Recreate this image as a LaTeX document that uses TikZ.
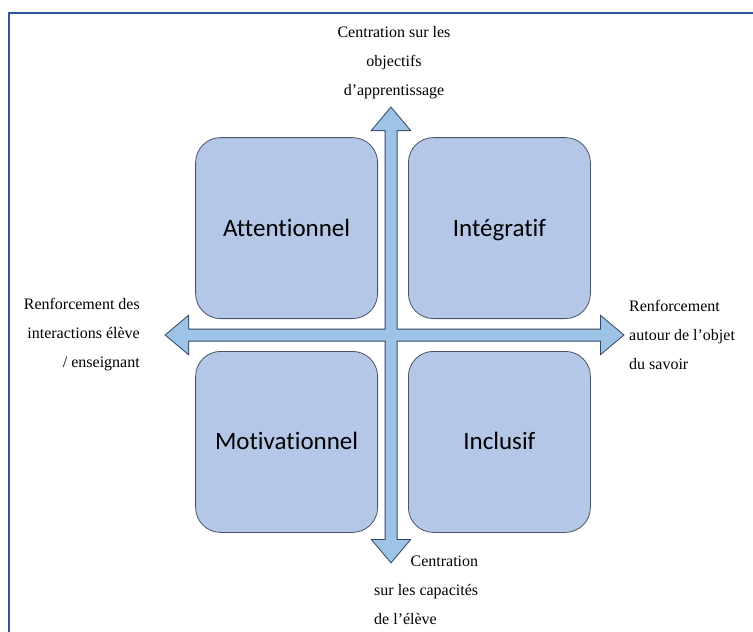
\documentclass[tikz,border=0pt]{standalone}
\usepackage{fontspec}
\setmainfont{Liberation Serif}
\newfontfamily\quadfont[Ligatures={NoCommon}]{Carlito}
\usetikzlibrary{positioning,calc}

\definecolor{quadfill}{RGB}{180,199,231}
\definecolor{quadline}{RGB}{72,84,104}
\definecolor{axisfill}{RGB}{157,195,230}
\definecolor{axisline}{RGB}{52,72,100}
\definecolor{framecol}{RGB}{47,85,151}

\tikzset{
  quadrant/.style={draw=quadline, fill=quadfill, line width=0.8pt, rounded corners=25pt,
    minimum width=182pt, minimum height=181pt, inner sep=0pt,
    text height=19pt, text depth=3pt,
    font=\quadfont\fontsize{25}{30}\selectfont},
  axislabel/.style={inner sep=0pt, font=\fontsize{16}{29}\selectfont},
  axisedge/.style={draw=axisline, line width=2pt, line join=miter},
  axisbody/.style={fill=axisfill},
}

% the two block arrows (axes)
\newcommand{\vaxis}[1]{%
  \path[#1] (vtop) -- ++(18.5,22) -- ++(-13,0) -- ($(vbot)+(5.5,-22)$) -- ++(13,0)
    -- (vbot) -- ++(-18.5,-22) -- ++(13,0) -- ($(vtop)+(-5.5,22)$) -- ++(-13,0) -- cycle;}
\newcommand{\haxis}[1]{%
  \path[#1] (hleft) -- ++(22,-18.5) -- ++(0,13) -- ($(hright)+(-22,-5.5)$) -- ++(0,-13)
    -- (hright) -- ++(-22,18.5) -- ++(0,-13) -- ($(hleft)+(22,5.5)$) -- ++(0,13) -- cycle;}

\begin{document}
\begin{tikzpicture}[x=1pt,y=-1pt]
  \useasboundingbox (0,0) rectangle (753,632);

  % frame
  \draw[framecol, line width=2.5pt] (9,645) -- (9,13) -- (765,13);

  \coordinate (ctr)    at (391,335);
  \coordinate (vtop)   at (391,108);
  \coordinate (vbot)   at (391,562);
  \coordinate (hleft)  at (166,335);
  \coordinate (hright) at (623,335);

  % axes: outline first, then fill, so the crossing is merged
  \vaxis{axisedge}
  \haxis{axisedge}
  \vaxis{axisbody}
  \haxis{axisbody}

  \node[quadrant, above left=16pt and 13pt of ctr]  (attent) {Attentionnel};
  \node[quadrant, above right=16pt and 17pt of ctr] (integr) {Intégratif};
  \node[quadrant, below left=16pt and 13pt of ctr]  (motiv)  {Motivationnel};
  \node[quadrant, below right=16pt and 17pt of ctr] (inclus) {Inclusif};

  \node[axislabel, align=center, above=9pt of vtop, xshift=3pt] (toplab)
    {Centration sur les\\objectifs\\d’apprentissage};
  \node[axislabel, align=right, left=26pt of hleft] (leftlab)
    {Renforcement des\\interactions élève\\/ enseignant};
  \node[axislabel, align=right, right=6pt of hright] (rightlab)
    {\rlap{Renforcement}\hphantom{autour de l’objet}\\autour de l’objet\\\rlap{du savoir}\hphantom{autour de l’objet}};
  \node[axislabel, align=left, anchor=north west] (botlab)
    at ($(vbot)+(-17,-6)$) {\hphantom{sur les capacités}\llap{Centration}\\sur les capacités\\de l’élève};

\end{tikzpicture}
\end{document}
